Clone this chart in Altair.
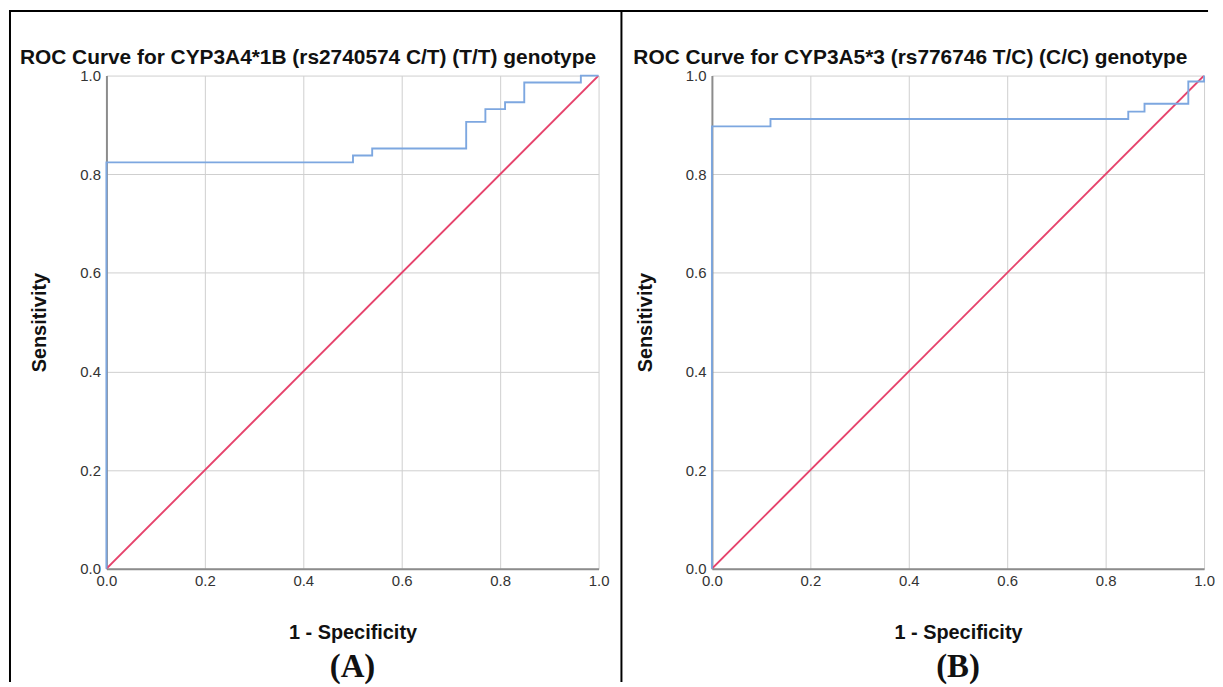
import altair as alt
import pandas as pd

# Panel A ROC (step points, step-after)
a_fpr = [0.0, 0.0, 0.501, 0.54, 0.731, 0.77, 0.81, 0.849, 0.964, 1.0]
a_tpr = [0.0, 0.824, 0.838, 0.852, 0.906, 0.932, 0.946, 0.986, 1.0, 1.0]
# Panel B ROC
b_fpr = [0.0, 0.0, 0.119, 0.846, 0.879, 0.968, 1.0]
b_tpr = [0.0, 0.897, 0.912, 0.927, 0.943, 0.988, 1.0]
# reference line
diag_x = [0.0, 1.0]
diag_y = [0.0, 1.0]

ticks = [0.0, 0.2, 0.4, 0.6, 0.8, 1.0]
titles = ["ROC Curve for CYP3A4*1B (rs2740574 C/T) (T/T) genotype",
          "ROC Curve for CYP3A5*3 (rs776746 T/C) (C/C) genotype"]
labels = ["(A)", "(B)"]

W, H = 495, 496
BLUE = "#7DA7E0"
RED = "#E6436C"


def panel(fpr, tpr, title, label, title_dx, frame):
    df = pd.DataFrame({"fpr": fpr, "tpr": tpr, "idx": list(range(len(fpr)))})
    dd = pd.DataFrame({"x": diag_x, "y": diag_y})
    xax = alt.Axis(values=ticks, format=".1f", title="1 - Specificity", labelFlush=False,
                   grid=True, ticks=False, labelPadding=5, titlePadding=34)
    yax = alt.Axis(values=ticks, format=".1f", title="Sensitivity", labelFlush=False,
                   grid=True, ticks=False, labelPadding=6, titlePadding=30)
    xs = alt.Scale(domain=[0, 1], nice=False)
    ys = alt.Scale(domain=[0, 1], nice=False)
    diag = alt.Chart(dd).mark_line(color=RED, strokeWidth=1.9, clip=True).encode(
        x=alt.X("x:Q", scale=xs, axis=xax), y=alt.Y("y:Q", scale=ys, axis=yax))
    roc = alt.Chart(df).mark_line(color=BLUE, strokeWidth=1.9, interpolate="step-after").encode(
        x=alt.X("fpr:Q", scale=xs), y=alt.Y("tpr:Q", scale=ys), order="idx:Q")
    one = pd.DataFrame({"t": [title], "l": [label]})
    ttl = alt.Chart(one).mark_text(font="Liberation Sans", fontSize=21, fontWeight="bold",
                                   align="left", baseline="alphabetic", color="#111").encode(
        x=alt.value(title_dx), y=alt.value(-12), text="t:N")
    lab = alt.Chart(one).mark_text(font="Liberation Serif", fontSize=33, fontWeight="bold",
                                   align="center", baseline="alphabetic", color="#111").encode(
        x=alt.value(W / 2), y=alt.value(605), text="l:N")
    layers = [diag, roc, ttl, lab]
    if frame:
        fr = pd.DataFrame({"a": [0]})
        left = alt.Chart(fr).mark_rule(color="#000", strokeWidth=2).encode(
            x=alt.value(-97), y=alt.value(-65), y2=alt.value(610))
        top = alt.Chart(fr).mark_rule(color="#000", strokeWidth=2).encode(
            x=alt.value(-98), x2=alt.value(1108), y=alt.value(-65))
        mid = alt.Chart(fr).mark_rule(color="#000", strokeWidth=2).encode(
            x=alt.value(518), y=alt.value(-65), y2=alt.value(610))
        layers += [left, top, mid]
    return alt.layer(*layers).properties(width=W, height=H)


pa = panel(a_fpr, a_tpr, titles[0], labels[0], -87, True)
pb = panel(b_fpr, b_tpr, titles[1], labels[1], -79, False)

chart = alt.hconcat(pa, pb, spacing=114, bounds="flush").properties(
    padding=0, background="white"
).configure_view(stroke=None).configure_axis(
    labelFont="Liberation Sans", labelFontSize=15, labelColor="#333",
    titleFont="Liberation Sans", titleFontSize=20, titleFontWeight="bold", titleColor="#111",
    domainColor="#8c8c8c", domainWidth=2, gridColor="#cfcfcf", gridWidth=1
)

chart.save("out.html", embed_options={"renderer": "svg", "actions": False})
